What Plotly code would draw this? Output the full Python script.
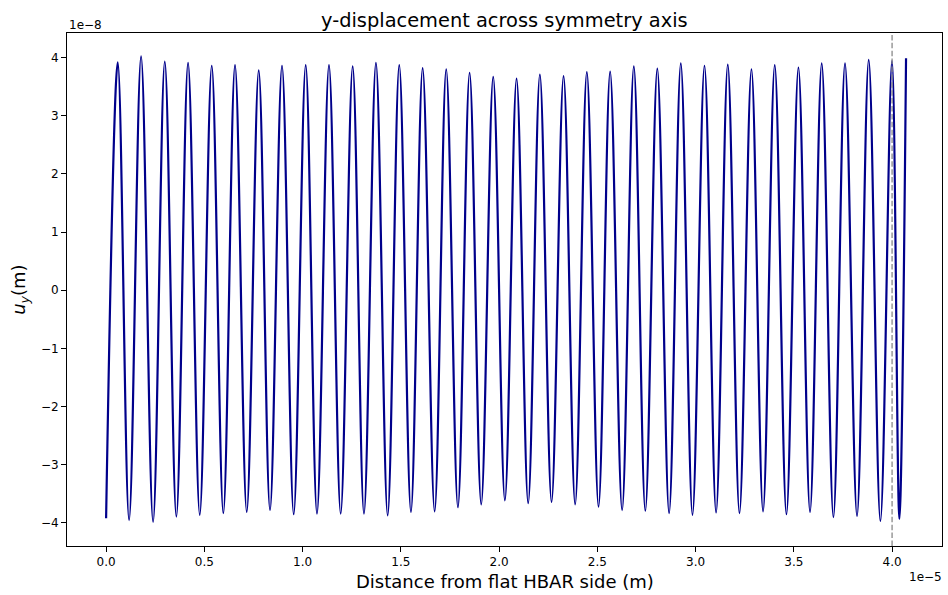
import plotly.graph_objects as go

# ---- data (x in units of 1e-5 m, y in units of 1e-8 m) ----
x_scale_label = "1e\u22125"
y_scale_label = "1e\u22128"

start_x = 0.0
start_y = -3.92
end_x = 4.071
end_y = 3.99

peak_x = [0.0595, 0.178, 0.2986, 0.4171, 0.5376, 0.6561, 0.7767, 0.8952, 1.0158, 1.1343,
          1.2548, 1.3733, 1.4919, 1.6109, 1.7309, 1.8499, 1.9700, 2.0890, 2.2075, 2.3281,
          2.4466, 2.5651, 2.6857, 2.8052, 2.9247, 3.0453, 3.1638, 3.2843, 3.4028, 3.5234,
          3.6419, 3.7604, 3.8810, 3.9995]
peak_y = [3.92, 4.02, 3.93, 3.91, 3.86, 3.87, 3.78, 3.86, 3.87, 3.87,
          3.85, 3.91, 3.87, 3.82, 3.80, 3.74, 3.67, 3.64, 3.71, 3.68,
          3.75, 3.76, 3.85, 3.81, 3.90, 3.86, 3.88, 3.80, 3.87, 3.83,
          3.90, 3.90, 3.96, 3.94]

trough_x = [0.1170, 0.2391, 0.3576, 0.4766, 0.5966, 0.7157, 0.8342, 0.9547, 1.0732, 1.1938,
            1.3123, 1.4329, 1.5514, 1.6719, 1.7904, 1.9090, 2.0295, 2.1480, 2.2670, 2.3871,
            2.5061, 2.6261, 2.7442, 2.8652, 2.9842, 3.1043, 3.2233, 3.3433, 3.4624, 3.5824,
            3.7014, 3.8215, 3.9405, 4.0371]
trough_y = [-3.95, -3.98, -3.89, -3.86, -3.83, -3.81, -3.78, -3.85, -3.84, -3.84,
            -3.84, -3.87, -3.81, -3.80, -3.73, -3.68, -3.61, -3.66, -3.64, -3.68,
            -3.72, -3.78, -3.79, -3.83, -3.86, -3.82, -3.83, -3.80, -3.85, -3.81,
            -3.90, -3.88, -3.97, -3.93]

marker_x = 4.0

x_ticks = [0.0, 0.5, 1.0, 1.5, 2.0, 2.5, 3.0, 3.5, 4.0]
x_tick_text = ["0.0", "0.5", "1.0", "1.5", "2.0", "2.5", "3.0", "3.5", "4.0"]
y_ticks = [-4, -3, -2, -1, 0, 1, 2, 3, 4]
y_tick_text = ["\u22124", "\u22123", "\u22122", "\u22121", "0", "1", "2", "3", "4"]

# ---- build the curve from the extrema ----
xs = [start_x]
ys = [start_y]
for px, py, tx, ty in zip(peak_x, peak_y, trough_x, trough_y):
    xs += [px, tx]
    ys += [py, ty]
xs.append(end_x)
ys.append(end_y)

FONT = "DejaVu Sans"

fig = go.Figure()
fig.add_trace(go.Scatter(
    x=xs, y=ys, mode="lines",
    line=dict(color="#00008B", width=2.2, shape="spline", smoothing=1.0),
    showlegend=False,
))

fig.add_shape(type="line", xref="x", yref="paper", x0=marker_x, x1=marker_x, y0=0, y1=1,
              line=dict(color="rgba(128,128,128,0.8)", width=1.5, dash="5.5px,2.4px"))

axis_common = dict(
    showgrid=False, zeroline=False, showline=True, mirror=True,
    linecolor="black", linewidth=1, ticks="outside", ticklen=5, tickwidth=1,
    tickcolor="black", tickfont=dict(family=FONT, size=12, color="black"),
)

fig.update_layout(
    width=948, height=595,
    margin=dict(l=67, r=6, t=33, b=49, pad=0),
    paper_bgcolor="white", plot_bgcolor="white",
    font=dict(family=FONT, color="black"),
    xaxis=dict(range=[-0.199, 4.254], tickvals=x_ticks, ticktext=x_tick_text, **axis_common),
    yaxis=dict(range=[-4.396, 4.423], tickvals=y_ticks, ticktext=y_tick_text, **axis_common),
)

annotations = [
    dict(text="y-displacement across symmetry axis", x=0.5, y=1.0248, xref="paper", yref="paper",
         xanchor="center", yanchor="middle", showarrow=False, font=dict(family=FONT, size=19.4)),
    dict(text="Distance from flat HBAR side (m)", x=0.5, y=-0.0688, xref="paper", yref="paper",
         xanchor="center", yanchor="middle", showarrow=False, font=dict(family=FONT, size=18)),
    dict(text="<i>u</i><sub><i>y</i></sub>(m)", x=-0.0545, y=0.5, xref="paper", yref="paper",
         xanchor="center", yanchor="middle", textangle=-90, showarrow=False,
         font=dict(family=FONT, size=18)),
    dict(text=y_scale_label, x=0.0, y=1.015, xref="paper", yref="paper",
         xanchor="left", yanchor="middle", showarrow=False, font=dict(family=FONT, size=12)),
    dict(text=x_scale_label, x=1.002, y=-0.060, xref="paper", yref="paper",
         xanchor="right", yanchor="middle", showarrow=False, font=dict(family=FONT, size=12)),
]
fig.update_layout(annotations=annotations)

fig.write_html("out.html")
